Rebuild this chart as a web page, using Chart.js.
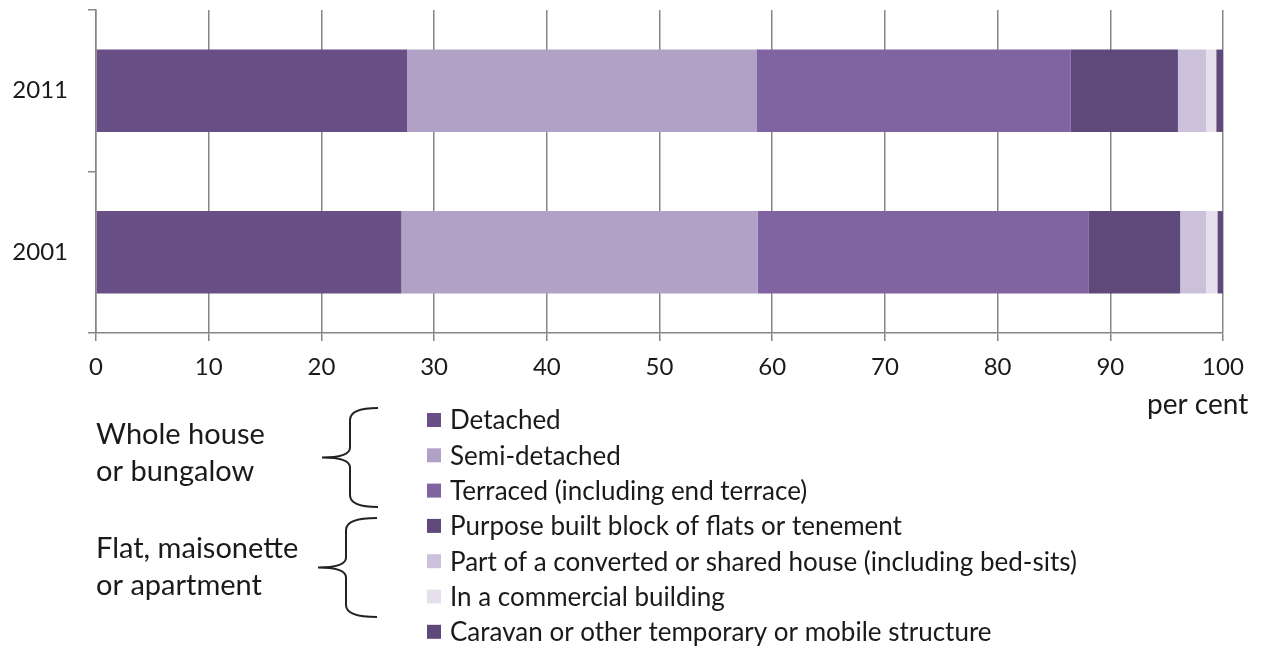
<!DOCTYPE html>
<html>
<head>
<meta charset="utf-8">
<script src="https://cdn.jsdelivr.net/npm/chart.js@4/dist/chart.umd.min.js"></script>
<style>
  html, body { margin: 0; padding: 0; background: #fff; }
  #wrap { width: 1265px; height: 647px; position: relative; }
</style>
</head>
<body>
<div id="wrap"><canvas id="c" width="1265" height="647"></canvas></div>
<script>
const categories = ['2011', '2001'];
const seriesNames = [
  'Detached',
  'Semi-detached',
  'Terraced (including end terrace)',
  'Purpose built block of flats or tenement',
  'Part of a converted or shared house (including bed-sits)',
  'In a commercial building',
  'Caravan or other temporary or mobile structure'
];
const detached    = [27.6, 27.1];
const semiDetached = [31.0, 31.6];
const terraced    = [27.9, 29.4];
const purposeBuilt = [9.5, 8.1];
const converted   = [2.5, 2.3];
const commercial  = [0.9, 1.0];
const caravan     = [0.6, 0.5];
const xTicks = [0, 10, 20, 30, 40, 50, 60, 70, 80, 90, 100];
const groupLabels = [['Whole house', 'or bungalow'], ['Flat, maisonette', 'or apartment']];
const axisUnit = 'per cent';

const colors = ['#684f85', '#b2a1c7', '#8064a2', '#5f497a', '#ccc1da', '#e5e0ec', '#5f497a'];
const values = [detached, semiDetached, terraced, purposeBuilt, converted, commercial, caravan];

const FONT = 'Lato, "Open Sans", sans-serif';
const TEXT = '#1a1a1a';
const GRID = '#868686';

const extrasPlugin = {
  id: 'extras',
  afterDraw(chart) {
    const ctx = chart.ctx;
    ctx.save();
    ctx.font = '26px ' + FONT;
    ctx.fillStyle = TEXT;
    ctx.textBaseline = 'middle';
    // legend
    const ds = chart.data.datasets;
    const startY = 420, step = 35.3;
    ds.forEach((d, i) => {
      const y = startY + i * step;
      ctx.fillStyle = d.backgroundColor;
      ctx.fillRect(427, y - 7, 14, 14);
      ctx.fillStyle = TEXT;
      ctx.textAlign = 'left';
      ctx.fillText(d.label, 450, y + 1);
    });
    // group labels
    ctx.font = '29px ' + FONT;
    ctx.fillText(groupLabels[0][0], 96, 435);
    ctx.fillText(groupLabels[0][1], 96, 472);
    ctx.fillText(groupLabels[1][0], 96, 549);
    ctx.fillText(groupLabels[1][1], 96, 586);
    // unit label
    ctx.font = '28px ' + FONT;
    ctx.textAlign = 'left';
    ctx.fillText(axisUnit, 1147, 405);
    // braces
    function brace(top, bottom, xr, xm, xl) {
      const mid = (top + bottom) / 2;
      ctx.beginPath();
      ctx.moveTo(xr, top);
      ctx.quadraticCurveTo(xm, top, xm, top + 12);
      ctx.lineTo(xm, mid - 10);
      ctx.quadraticCurveTo(xm, mid, xl, mid);
      ctx.quadraticCurveTo(xm, mid, xm, mid + 10);
      ctx.lineTo(xm, bottom - 12);
      ctx.quadraticCurveTo(xm, bottom, xr, bottom);
      ctx.strokeStyle = '#222';
      ctx.lineWidth = 2;
      ctx.stroke();
    }
    brace(408, 507, 378, 350, 322);
    brace(518, 617, 377, 346, 318);
    ctx.restore();
  }
};

new Chart(document.getElementById('c'), {
  type: 'bar',
  data: {
    labels: categories,
    datasets: seriesNames.map((name, i) => ({
      label: name,
      data: values[i],
      backgroundColor: colors[i],
      borderWidth: 0,
      barPercentage: 0.51,
      categoryPercentage: 1.0
    }))
  },
  options: {
    indexAxis: 'y',
    responsive: false,
    animation: false,
    layout: { padding: { top: 10, right: 42, left: 0, bottom: 0 } },
    plugins: { legend: { display: false }, tooltip: { enabled: false } },
    scales: {
      x: {
        stacked: true,
        min: 0, max: 100,
        afterBuildTicks(axis) { axis.ticks = xTicks.map(v => ({ value: v })); },
        afterFit(axis) { axis.height = 647 - 333; axis.paddingLeft = 0; axis.paddingRight = 0; },
        ticks: { color: TEXT, font: { family: FONT, size: 24 }, padding: 12, maxRotation: 0 },
        grid: { color: GRID, lineWidth: 1.5, tickLength: 8, drawOnChartArea: true },
        border: { display: true, color: GRID, width: 1.5 }
      },
      y: {
        stacked: true,
        afterFit(axis) { axis.width = 96; axis.paddingTop = 0; axis.paddingBottom = 0; },
        ticks: { color: TEXT, font: { family: FONT, size: 24 }, padding: 20 },
        grid: { offset: true, drawOnChartArea: false, color: GRID, lineWidth: 1.5, tickLength: 8 },
        border: { display: true, color: GRID, width: 1.5 }
      }
    }
  },
  plugins: [extrasPlugin]
});
</script>
</body>
</html>
